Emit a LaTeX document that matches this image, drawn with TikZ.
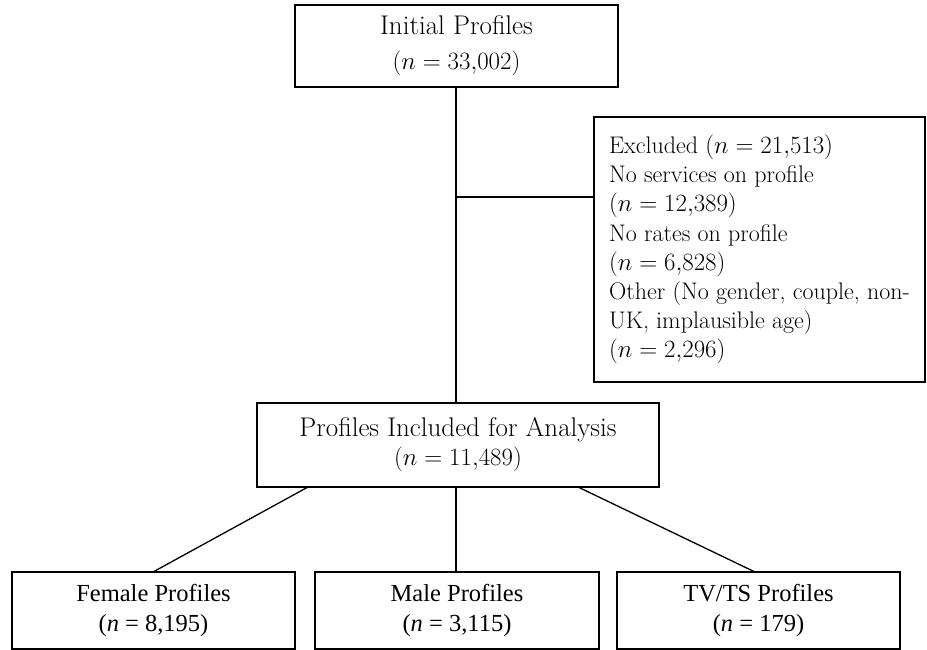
\documentclass[tikz,border=0pt]{standalone}
\usepackage{fontspec}
\newfontfamily\timesf{Liberation Serif}
\begin{document}
\begin{tikzpicture}[x=1pt,y=-1pt,
  box/.style={draw,line width=1.5pt,inner sep=0pt,align=center},
  lowbox/.style={draw,line width=1.3pt,inner sep=0pt,align=center,font=\timesf\fontsize{24.5}{30.5}\selectfont},
  conn/.style={line width=1.3pt}]
\useasboundingbox (0,0) rectangle (927,650);
\node[box,minimum width=323pt,minimum height=82pt,font=\fontsize{27}{35}\selectfont] (top) at (456.5,46) {Initial Profiles\\$(n=33{,}002)$};
\node[box,minimum width=331pt,minimum height=265pt,align=left,font=\fontsize{24}{29.2}\selectfont] (excl) at (759.5,249.5)
  {Excluded $(n=21{,}513)$\\No services on profile\\$(n=12{,}389)$\\No rates on profile\\$(n=6{,}828)$\\Other (No gender, couple, non-\\UK, implausible age)\\$(n=2{,}296)$};
\node[box,minimum width=402pt,minimum height=84pt,font=\fontsize{27}{29}\selectfont] (incl) at (458,445) {Profiles Included for Analysis\\$(n=11{,}489)$};
\node[lowbox,minimum width=283pt,minimum height=77pt] (fem) at (153.5,610.5) {Female Profiles\\({\itshape n}~=~8,195)};
\node[lowbox,minimum width=284pt,minimum height=77pt] (male) at (457,610.5) {Male Profiles\\({\itshape n}~=~3,115)};
\node[lowbox,minimum width=283pt,minimum height=77pt] (tvts) at (758.5,610.5) {TV/TS Profiles\\({\itshape n}~=~179)};
\coordinate (split) at (456,197);
\coordinate (b1) at (308,487);
\coordinate (b2) at (456,487);
\coordinate (b3) at (578,487);
\coordinate (t1) at (153,572);
\coordinate (t3) at (755,572);
\draw[conn] (top.south -| split) -- (incl.north -| split);
\draw[conn] (split) -- (excl.west |- split);
\draw[conn] (b1) -- (t1);
\draw[conn] (b2) -- (male.north -| b2);
\draw[conn] (b3) -- (t3);
\end{tikzpicture}
\end{document}
